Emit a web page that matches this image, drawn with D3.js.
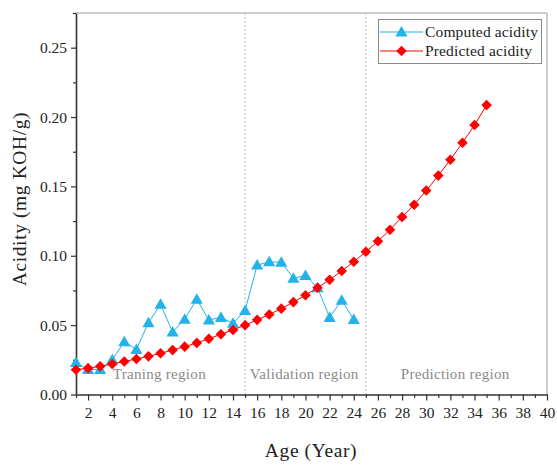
<!DOCTYPE html>
<html>
<head>
<meta charset="utf-8">
<script src="https://cdn.jsdelivr.net/npm/d3@7"></script>
<style>
  html, body { margin: 0; padding: 0; background: #fff; }
  svg { display: block; }
  text { font-family: "Liberation Serif", "DejaVu Serif", serif; }
</style>
</head>
<body>
<svg id="chart" width="557" height="466"></svg>
<script>
// ---- data ----
const computedAges = [1,2,3,4,5,6,7,8,9,10,11,12,13,14,15,16,17,18,19,20,21,22,23,24];
const computedAcidity = [0.023,0.018,0.018,0.025,0.038,0.0325,0.0517,0.065,0.045,0.0543,0.0687,0.0537,0.0556,0.0513,0.0605,0.0933,0.0957,0.0953,0.0838,0.0857,0.077,0.0556,0.068,0.054];
const predictedAges = [1,2,3,4,5,6,7,8,9,10,11,12,13,14,15,16,17,18,19,20,21,22,23,24,25,26,27,28,29,30,31,32,33,34,35];
const predictedAcidity = [0.0178,0.0190,0.0203,0.0220,0.0238,0.0256,0.0275,0.0297,0.0320,0.0345,0.0372,0.0402,0.0434,0.0465,0.0500,0.0538,0.0577,0.0619,0.0666,0.0716,0.0770,0.0827,0.0890,0.0957,0.1029,0.1105,0.1188,0.1280,0.1368,0.1470,0.1578,0.1692,0.1815,0.1943,0.2086];
const yTicks = [0, 0.05, 0.10, 0.15, 0.20, 0.25];
const yMinorTicks = [0.025, 0.075, 0.125, 0.175, 0.225, 0.275];
const xTicks = [2,4,6,8,10,12,14,16,18,20,22,24,26,28,30,32,34,36,38,40];
const xMinorTicks = [1,3,5,7,9,11,13,15,17,19,21,23,25,27,29,31,33,35,37,39];
const regionBounds = [15, 25];
const regionLabels = ["Traning region", "Validation region", "Prediction region"];
const regionCenters = [7.9, 19.9, 32.4];
const seriesNames = ["Computed acidity", "Predicted acidity"];

// ---- layout ----
const svg = d3.select("#chart");
const L = 76, R = 547, T = 13, B = 394.5;
const x = d3.scaleLinear().domain([1, 40]).range([L, R]);
const y = d3.scaleLinear().domain([0, 0.275]).range([B, T]);
const blue = "#22b3ea", red = "#ff0000";

// frame (top/right)
svg.append("path")
  .attr("d", `M${L},${T}H${R}V${B}`)
  .attr("fill", "none").attr("stroke", "#9a9a9a").attr("stroke-width", 1);

// region dividers
svg.selectAll("line.div").data(regionBounds).enter().append("line")
  .attr("x1", d => x(d)).attr("x2", d => x(d))
  .attr("y1", T).attr("y2", B)
  .attr("stroke", "#bdbdbd").attr("stroke-width", 1)
  .attr("stroke-dasharray", "2,2");

// region labels
svg.selectAll("text.reg").data(regionLabels).enter().append("text")
  .attr("x", (d, i) => x(regionCenters[i]))
  .attr("y", 379)
  .attr("text-anchor", "middle")
  .attr("font-size", 15)
  .attr("letter-spacing", 0.3)
  .attr("fill", "#8a8a8a")
  .text(d => d);

// axes
const yAxis = d3.axisLeft(y).tickValues(yTicks).tickFormat(d3.format(".2f")).tickSize(5).tickSizeOuter(0);
const gy = svg.append("g").attr("transform", `translate(${L},0)`).call(yAxis);
gy.selectAll("text").attr("font-size", 15.5).attr("fill", "#222").attr("font-family", "Liberation Serif, serif").attr("dx", "-1");
const yMinor = d3.axisLeft(y).tickValues(yMinorTicks).tickFormat("").tickSize(3).tickSizeOuter(0);
svg.append("g").attr("transform", `translate(${L},0)`).call(yMinor).select(".domain").remove();

const xAxis = d3.axisBottom(x).tickValues(xTicks).tickFormat(d3.format("d")).tickSize(6).tickSizeOuter(0);
const gx = svg.append("g").attr("transform", `translate(0,${B})`).call(xAxis);
gx.selectAll("text").attr("font-size", 15.5).attr("fill", "#222").attr("font-family", "Liberation Serif, serif").attr("dy", "0.95em");
const xMinor = d3.axisBottom(x).tickValues(xMinorTicks).tickFormat("").tickSize(3.5).tickSizeOuter(0);
svg.append("g").attr("transform", `translate(0,${B})`).call(xMinor).select(".domain").remove();

svg.selectAll(".domain").attr("stroke", "#333").attr("stroke-width", 1.6);
svg.selectAll(".tick line").attr("stroke", "#333").attr("stroke-width", 1.2);

// axis titles
svg.append("text").attr("x", 311).attr("y", 457).attr("text-anchor", "middle")
  .attr("font-size", 19.5).attr("letter-spacing", 0.6).attr("fill", "#222").text("Age (Year)");
svg.append("text").attr("transform", `translate(26,199) rotate(-90)`)
  .attr("text-anchor", "middle").attr("font-size", 19.5).attr("letter-spacing", 0.6).attr("fill", "#222")
  .text("Acidity (mg KOH/g)");

// series
const comp = computedAges.map((a, i) => [a, computedAcidity[i]]);
const pred = predictedAges.map((a, i) => [a, predictedAcidity[i]]);
const line = d3.line().x(d => x(d[0])).y(d => y(d[1]));
const tri = d3.symbol().type(d3.symbolTriangle).size(64);
const dia = d3.symbol().type(d3.symbolSquare).size(56);

svg.append("path").datum(comp).attr("d", line).attr("fill", "none").attr("stroke", blue).attr("stroke-width", 1);
svg.selectAll("path.tri").data(comp).enter().append("path")
  .attr("d", tri).attr("transform", d => `translate(${x(d[0])},${y(d[1]) + 1})`).attr("fill", blue);

svg.append("path").datum(pred).attr("d", line).attr("fill", "none").attr("stroke", red).attr("stroke-width", 1);
svg.selectAll("path.dia").data(pred).enter().append("path")
  .attr("d", dia).attr("transform", d => `translate(${x(d[0])},${y(d[1])}) rotate(45)`).attr("fill", red);

// legend
const lg = svg.append("g");
lg.append("rect").attr("x", 378.5).attr("y", 19.5).attr("width", 163).attr("height", 44)
  .attr("fill", "#fff").attr("stroke", "#888").attr("stroke-width", 1);
const rows = [{ name: seriesNames[0], c: blue, s: tri, rot: 0, dy: 1 }, { name: seriesNames[1], c: red, s: dia, rot: 45, dy: 0 }];
rows.forEach((r, i) => {
  const yy = 32 + i * 19;
  lg.append("line").attr("x1", 380).attr("x2", 423).attr("y1", yy).attr("y2", yy).attr("stroke", r.c).attr("stroke-width", 1);
  lg.append("path").attr("d", r.s).attr("fill", r.c).attr("transform", `translate(401.5,${yy + r.dy}) rotate(${r.rot})`);
  lg.append("text").attr("x", 425).attr("y", yy + 5).attr("font-size", 15.5).attr("letter-spacing", 0.15).attr("fill", "#222").text(r.name);
});
</script>
</body>
</html>
